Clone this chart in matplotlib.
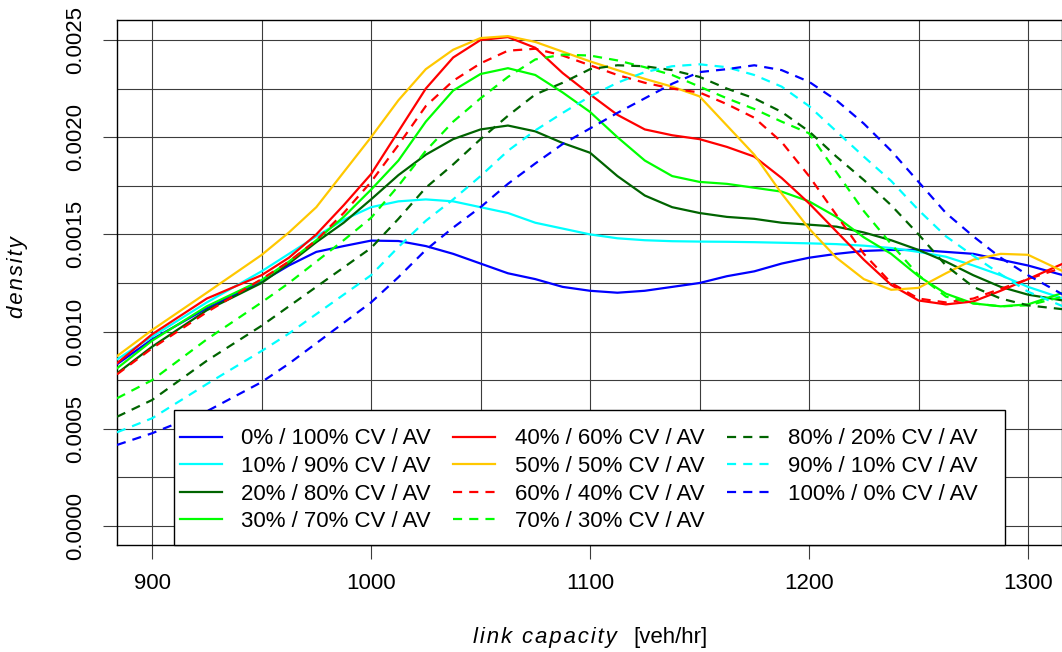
import matplotlib
matplotlib.use('Agg')
import matplotlib.pyplot as plt
from matplotlib.patches import Rectangle
from matplotlib.ticker import MultipleLocator, FormatStrFormatter

# ================= data (density in units of 1e-4) =================
SCALE = 1e-4
capacity = [884, 900, 925, 950, 962.5, 975, 987.5, 1000, 1012.5, 1025, 1037.5,
            1050, 1062.5, 1075, 1087.5, 1100, 1112.5, 1125, 1137.5, 1150,
            1162.5, 1175, 1187.5, 1200, 1212.5, 1225, 1237.5, 1250, 1262.5,
            1275, 1287.5, 1300, 1316]

cv0 = [8.32, 9.60, 11.2, 12.57, 13.4, 14.1, 14.4, 14.68, 14.66, 14.4, 14.0,
       13.5, 13.0, 12.7, 12.3, 12.1, 12.0, 12.1, 12.3, 12.5,
       12.85, 13.1, 13.5, 13.8, 14.0, 14.15, 14.2, 14.2, 14.1,
       14.0, 13.7, 13.4, 12.9]
cv10 = [8.57, 9.74, 11.5, 13.1, 14.0, 14.9, 15.75, 16.4, 16.7, 16.8, 16.7,
        16.4, 16.1, 15.6, 15.3, 15.0, 14.8, 14.7, 14.65, 14.63,
        14.62, 14.6, 14.57, 14.54, 14.5, 14.42, 14.3, 14.1, 13.85,
        13.4, 12.9, 12.3, 11.7]
cv20 = [7.85, 9.22, 11.1, 12.5, 13.5, 14.6, 15.6, 16.8, 18.05, 19.1, 19.9,
        20.4, 20.6, 20.3, 19.7, 19.2, 18.0, 17.0, 16.4, 16.1,
        15.9, 15.8, 15.6, 15.5, 15.4, 15.1, 14.7, 14.2, 13.6,
        12.9, 12.3, 11.9, 11.6]
cv30 = [8.11, 9.53, 11.3, 12.65, 13.6, 14.7, 15.9, 17.3, 18.8, 20.8, 22.4,
        23.25, 23.55, 23.2, 22.3, 21.3, 20.0, 18.8, 18.0, 17.7,
        17.6, 17.4, 17.2, 16.7, 15.9, 14.85, 14.0, 12.85, 11.95,
        11.45, 11.3, 11.4, 12.0]
cv40 = [8.37, 9.86, 11.7, 12.9, 13.8, 15.0, 16.5, 18.1, 20.3, 22.5, 24.1,
        25.0, 25.15, 24.6, 23.3, 22.2, 21.15, 20.4, 20.1, 19.9,
        19.5, 19.0, 17.9, 16.6, 15.15, 13.7, 12.4, 11.6, 11.4,
        11.55, 12.1, 12.7, 13.5]
cv50 = [8.74, 10.08, 12.0, 13.94, 15.1, 16.4, 18.2, 20.0, 21.9, 23.5, 24.5,
        25.1, 25.2, 24.9, 24.4, 23.9, 23.45, 23.0, 22.6, 22.1,
        20.6, 19.1, 17.1, 15.3, 13.8, 12.7, 12.15, 12.25, 13.0,
        13.7, 14.0, 13.95, 13.1]
cv60 = [7.80, 9.14, 11.0, 12.7, 13.6, 14.7, 16.1, 17.7, 19.6, 21.6, 22.9,
        23.8, 24.45, 24.55, 24.2, 23.7, 23.2, 22.8, 22.5, 22.3,
        21.7, 21.0, 19.75, 18.0, 16.0, 14.0, 12.5, 11.7, 11.5,
        11.7, 12.2, 12.7, 13.3]
cv70 = [6.57, 7.50, 9.6, 11.5, 12.5, 13.6, 14.7, 15.85, 17.5, 19.3, 20.8,
        22.0, 23.1, 24.0, 24.25, 24.2, 23.95, 23.6, 23.2, 22.6,
        22.0, 21.45, 20.8, 20.2, 18.2, 16.2, 14.5, 12.9, 11.8,
        11.45, 11.3, 11.35, 11.8]
cv80 = [5.62, 6.48, 8.5, 10.3, 11.3, 12.3, 13.3, 14.3, 15.8, 17.4, 18.6,
        19.9, 21.1, 22.2, 22.8, 23.5, 23.7, 23.65, 23.45, 23.1,
        22.5, 22.0, 21.3, 20.3, 19.0, 17.8, 16.5, 15.0, 13.4,
        12.3, 11.7, 11.35, 11.15]
cv90 = [4.82, 5.54, 7.3, 9.0, 9.9, 10.9, 11.9, 12.9, 14.35, 15.7, 16.8,
        18.0, 19.3, 20.35, 21.25, 22.1, 22.8, 23.35, 23.65, 23.75,
        23.6, 23.2, 22.6, 21.6, 20.3, 19.0, 17.75, 16.25, 14.9,
        13.9, 12.95, 12.05, 11.3]
cv100 = [4.17, 4.77, 5.9, 7.4, 8.35, 9.4, 10.45, 11.5, 12.8, 14.2, 15.35,
         16.4, 17.6, 18.65, 19.65, 20.45, 21.25, 22.0, 22.75, 23.35,
         23.5, 23.7, 23.45, 22.85, 21.9, 20.7, 19.3, 17.7, 16.1,
         14.9, 13.8, 12.9, 11.9]

labels = ['0% / 100% CV / AV', '10% / 90% CV / AV', '20% / 80% CV / AV',
          '30% / 70% CV / AV', '40% / 60% CV / AV', '50% / 50% CV / AV',
          '60% / 40% CV / AV', '70% / 30% CV / AV', '80% / 20% CV / AV',
          '90% / 10% CV / AV', '100% / 0% CV / AV']
series = [cv0, cv10, cv20, cv30, cv40, cv50, cv60, cv70, cv80, cv90, cv100]
colors = ['#0000FF', '#00FFFF', '#006400', '#00FF00', '#FF0000', '#FFC800',
          '#FF0000', '#00FF00', '#006400', '#00FFFF', '#0000FF']
dashed = [False] * 6 + [True] * 5
# ====================================================================

plt.rcParams['font.family'] = ['Liberation Sans', 'DejaVu Sans']
W, H = 1062, 652
FS = 16
DASH = (0, (4.1, 3.2))
fig = plt.figure(figsize=(W / 100, H / 100), dpi=100)
ax = fig.add_axes([117 / W, 1 - 545 / H, 1 - 117 / W, (545 - 20) / H])

for vals, col, dsh in zip(series, colors, dashed):
    ax.plot(capacity, [v * SCALE for v in vals], color=col, lw=1.6,
            ls=DASH if dsh else '-', zorder=3, solid_joinstyle='round')

ax.set_xlim(884.0, 1315.5)
ax.set_ylim(-19 / 194400, 506 / 194400)

ax.xaxis.set_major_locator(MultipleLocator(100))
ax.xaxis.set_minor_locator(MultipleLocator(50))
ax.yaxis.set_major_locator(MultipleLocator(0.0005))
ax.yaxis.set_minor_locator(MultipleLocator(0.00025))
ax.yaxis.set_major_formatter(FormatStrFormatter('%.4f'))
ax.grid(True, which='both', color='#3c3c3c', lw=0.8, zorder=1)
ax.tick_params(which='major', length=10, width=0.8, color='#3c3c3c', labelsize=FS)
ax.tick_params(axis='x', pad=10)
ax.tick_params(axis='y', pad=12, labelrotation=90)
ax.tick_params(which='minor', length=0)
for lab in ax.get_yticklabels():
    lab.set_va('center')
for sp in ax.spines.values():
    sp.set_color('black')
    sp.set_linewidth(1.0)

# legend box drawn by hand, in figure pixel positions
to_ax = lambda px, py: ((px - 117) / (1062 - 117), (545 - py) / (545 - 20))
x0, y0 = to_ax(174, 545)
x1, y1 = to_ax(1005, 410)
ax.add_patch(Rectangle((x0, y0), x1 - x0, y1 - y0, transform=ax.transAxes,
                       facecolor='white', edgecolor='black', lw=1.0, zorder=5,
                       clip_on=False))
col_line = [180, 453, 727]
col_text = [241, 515, 788]
row_y = [436.5, 464, 491.5, 519]
for i, (lab, col, dsh) in enumerate(zip(labels, colors, dashed)):
    c, r = divmod(i, 4)
    lx0, ly = to_ax(col_line[c], row_y[r])
    lx1, _ = to_ax(col_line[c] + 42, row_y[r])
    ax.plot([lx0, lx1], [ly, ly], transform=ax.transAxes, color=col, lw=1.6,
            ls=DASH if dsh else '-', zorder=6, clip_on=False)
    tx, ty = to_ax(col_text[c], row_y[r] + 8)
    ax.text(tx, ty, lab, transform=ax.transAxes, fontsize=FS, va='baseline',
            ha='left', zorder=6)

sp = '\u200a'
fig.text(617 / W, 1 - 643 / H, sp.join('link capacity'), ha='right', va='baseline',
         fontsize=FS, style='italic')
fig.text(633 / W, 1 - 643 / H, '[veh/hr]', ha='left', va='baseline', fontsize=FS)
fig.text(17 / W, 1 - 277 / H, sp.join('density'), rotation=90, ha='center',
         va='center', fontsize=FS, style='italic')

fig.savefig('out.png', dpi=100)
